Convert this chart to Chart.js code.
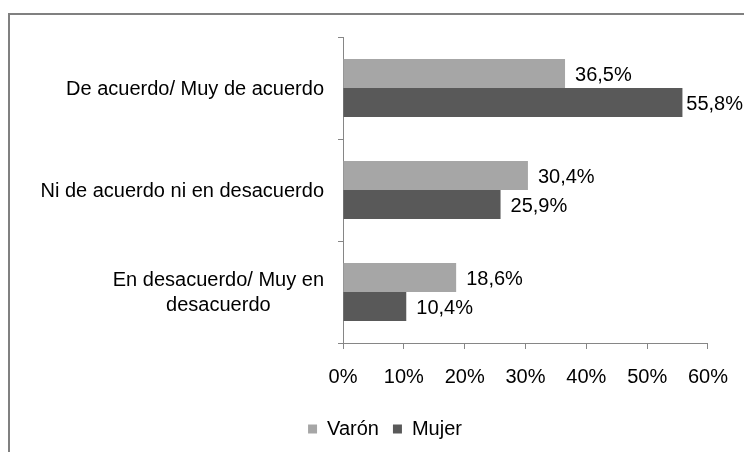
<!DOCTYPE html>
<html>
<head>
<meta charset="utf-8">
<script src="https://cdn.jsdelivr.net/npm/chart.js@4/dist/chart.umd.min.js"></script>
<style>
  html, body { margin: 0; padding: 0; background: #fff; }
  .wrap { position: relative; width: 744px; height: 452px; overflow: hidden; }
  .frame {
    position: absolute; left: 8px; top: 13px; width: 760px; height: 460px;
    border-top: 2px solid #808080; border-left: 2px solid #808080;
  }
  canvas { position: absolute; left: 0; top: 0; }
</style>
</head>
<body>
<div class="wrap">
  <div class="frame"></div>
  <canvas id="chart" width="744" height="452"></canvas>
</div>
<script>
const categories = [
  ["De acuerdo/ Muy de acuerdo"],
  ["Ni de acuerdo ni en desacuerdo"],
  ["En desacuerdo/ Muy en", "desacuerdo"]
];
const varon = [36.5, 30.4, 18.6];
const mujer = [55.8, 25.9, 10.4];
const xTicks = [0, 10, 20, 30, 40, 50, 60];

const FONT = "'Liberation Sans', Arial, sans-serif";
const FONT_SIZE = 20;
const AXIS_GRAY = "#868686";

function pct(v) {
  return v.toFixed(1).replace(".", ",") + "%";
}

// value labels at the end of each bar, pulled back if they would run off the edge
const valueLabels = {
  id: "valueLabels",
  afterDatasetsDraw(chart) {
    const ctx = chart.ctx;
    ctx.save();
    ctx.font = `${FONT_SIZE}px ${FONT}`;
    ctx.fillStyle = "#000";
    ctx.textAlign = "left";
    ctx.textBaseline = "middle";
    chart.data.datasets.forEach((ds, i) => {
      chart.getDatasetMeta(i).data.forEach((bar, j) => {
        const txt = pct(ds.data[j]);
        const w = ctx.measureText(txt).width;
        const x = Math.min(bar.x + 10, chart.width - 1 - w);
        ctx.fillText(txt, x, bar.y + 2);
      });
    });
    ctx.restore();
  }
};

// category labels: right aligned block, lines centred inside it
const categoryLabels = {
  id: "categoryLabels",
  afterDraw(chart) {
    const ctx = chart.ctx;
    const y = chart.scales.y;
    const right = 324;
    const lineH = 25;
    ctx.save();
    ctx.font = `${FONT_SIZE}px ${FONT}`;
    ctx.fillStyle = "#000";
    ctx.textAlign = "center";
    ctx.textBaseline = "middle";
    categories.forEach((lines, i) => {
      const widest = Math.max(...lines.map(l => ctx.measureText(l).width));
      const cx = right - widest / 2;
      const cy = y.getPixelForValue(i) + 1;
      const top = cy - (lines.length - 1) * lineH / 2;
      lines.forEach((l, k) => ctx.fillText(l, cx, top + k * lineH));
    });
    ctx.restore();
  }
};

new Chart(document.getElementById("chart"), {
  type: "bar",
  data: {
    labels: categories,
    datasets: [
      {
        label: "Varón",
        data: varon,
        backgroundColor: "#a6a6a6",
        categoryPercentage: 0.57,
        barPercentage: 1
      },
      {
        label: "Mujer",
        data: mujer,
        backgroundColor: "#595959",
        categoryPercentage: 0.57,
        barPercentage: 1
      }
    ]
  },
  options: {
    indexAxis: "y",
    responsive: false,
    animation: false,
    layout: { padding: { top: 37, left: 59, right: 33, bottom: 3 } },
    plugins: {
      tooltip: { enabled: false },
      title: { display: false },
      legend: {
        position: "bottom",
        labels: {
          boxWidth: 9,
          boxHeight: 9,
          padding: 14,
          color: "#000",
          font: { family: FONT, size: FONT_SIZE }
        }
      }
    },
    scales: {
      x: {
        min: xTicks[0],
        max: xTicks[xTicks.length - 1],
        afterBuildTicks(scale) {
          scale.ticks = xTicks.map(v => ({ value: v }));
        },
        afterFit(scale) { scale.height = 62; },
        border: { color: AXIS_GRAY },
        grid: { drawOnChartArea: false, color: AXIS_GRAY, tickLength: 6 },
        ticks: {
          color: "#000",
          padding: 16,
          font: { family: FONT, size: FONT_SIZE },
          callback: v => v + "%"
        }
      },
      y: {
        afterFit(scale) { scale.width = 343 - 59; },
        border: { color: AXIS_GRAY },
        grid: { drawOnChartArea: false, color: AXIS_GRAY, tickLength: 5, offset: true },
        ticks: { display: false }
      }
    }
  },
  plugins: [valueLabels, categoryLabels]
});
</script>
</body>
</html>
